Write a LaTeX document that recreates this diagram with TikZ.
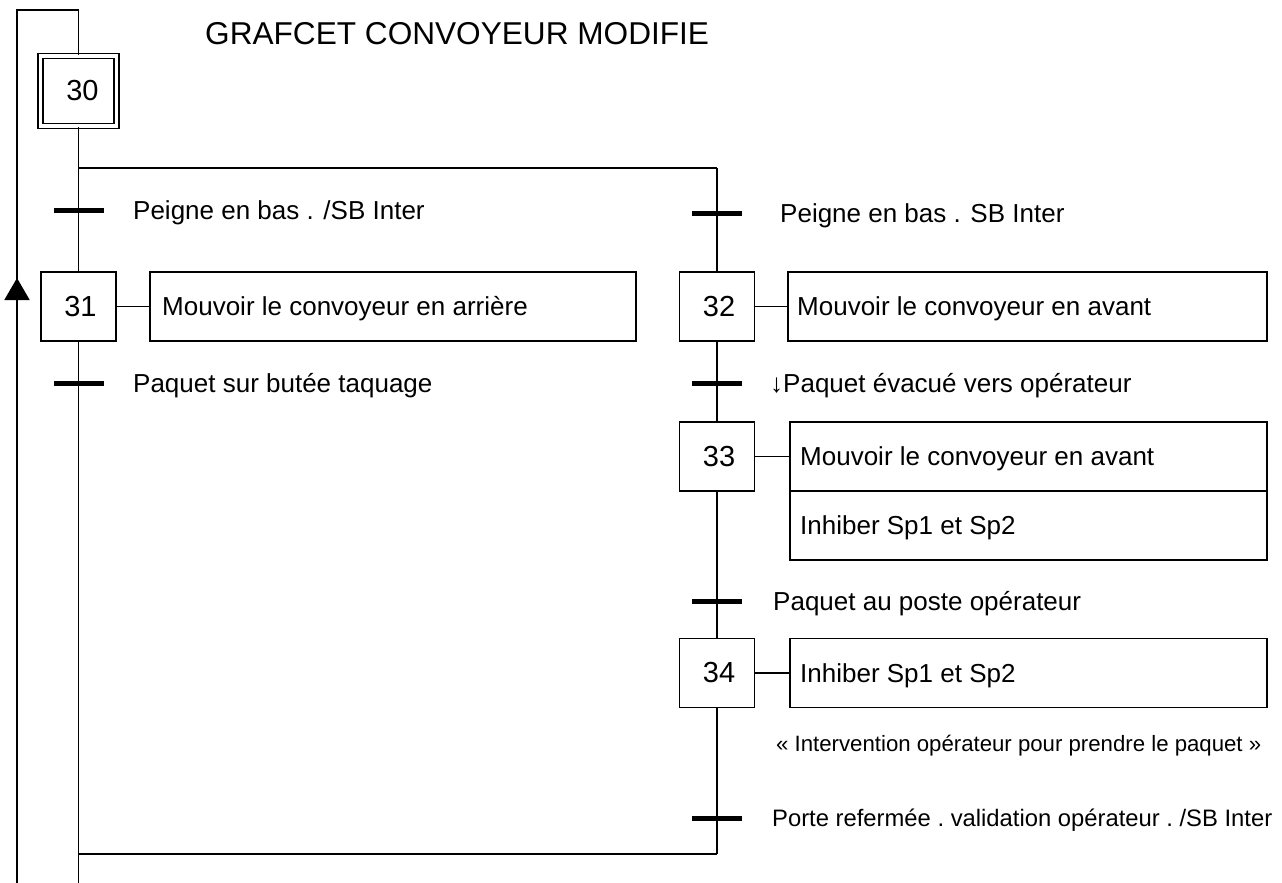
\documentclass[tikz,border=0pt]{standalone}
\usepackage{fontspec}
\setmainfont{Liberation Sans}
\usetikzlibrary{arrows.meta}
\begin{document}
\begin{tikzpicture}[x=1pt,y=-1pt,
  ln/.style={line width=1.9pt},
  stepbox/.style={draw,line width=1.9pt,minimum width=75pt,minimum height=69pt,inner sep=0pt,font=\fontsize{29}{32}\selectfont},
  initbox/.style={draw,line width=1.8pt,double,double distance=3.2pt,minimum width=76pt,minimum height=70pt,inner sep=0pt,font=\fontsize{29}{32}\selectfont},
  actbox/.style={draw,line width=1.9pt,minimum height=69pt,inner sep=0pt},
  lbl/.style={anchor=base west,font=\fontsize{26}{30}\selectfont,inner sep=0pt},
  trans/.style={fill=black,minimum width=50pt,minimum height=5pt,inner sep=0pt},
  uparrow/.style={line width=1.9pt,-{Triangle[width=25pt,length=22pt]}}
]
\useasboundingbox (0,0) rectangle (1282,883);

% title
\node[anchor=base west,font=\fontsize{31.6}{36}\selectfont,inner sep=0pt] (title) at (205,45) {GRAFCET CONVOYEUR MODIFIE};

% steps
\node[initbox] (s30) at (78.5,91) {\hspace*{8pt}30};
\node[stepbox] (s31) at (78.5,306.5) {\hspace*{4pt}31};
\node[stepbox] (s32) at (717,306.5) {\hspace*{4pt}32};
\node[stepbox] (s33) at (717,456.5) {\hspace*{4pt}33};
\node[stepbox] (s34) at (717,673) {\hspace*{4pt}34};

% actions
\node[actbox,minimum width=486pt] (a31) at (393,306.5) {};
\node[actbox,minimum width=479pt] (a32) at (1027.5,306.5) {};
\node[actbox,minimum width=477pt] (a33) at (1028.5,456.5) {};
\node[actbox,minimum width=477pt] (a33b) at (1028.5,525.5) {};
\node[actbox,minimum width=477pt] (a34) at (1028.5,673) {};
\node[lbl] (a31t) at (162,315) {Mouvoir le convoyeur en arrière};
\node[lbl] (a32t) at (797,315) {Mouvoir le convoyeur en avant};
\node[lbl] (a33t) at (800,465) {Mouvoir le convoyeur en avant};
\node[lbl] (a33bt) at (800,534) {Inhiber Sp1 et Sp2};
\node[lbl] (a34t) at (800,682) {Inhiber Sp1 et Sp2};

% transitions
\node[trans] (t1) at (78.5,210) {};
\node[trans] (t2) at (78.5,383) {};
\node[trans] (t3) at (717,213) {};
\node[trans] (t4) at (717,383) {};
\node[trans] (t5) at (717,601) {};
\node[trans] (t6) at (717,818) {};

% transition labels
\node[lbl] (l1) at (133,219) {Peigne en bas . /SB Inter};
\node[lbl] (l2) at (133,392) {Paquet sur butée taquage};
\node[lbl] (l3) at (780,222) {Peigne en bas . SB Inter};
\node[lbl] (l4) at (770,392) {↓Paquet évacué vers opérateur};
\node[lbl] (l5) at (773,610) {Paquet au poste opérateur};
\node[lbl,font=\fontsize{22.2}{26}\selectfont] (l6) at (776,751) {« Intervention opérateur pour prendre le paquet »};
\node[lbl,font=\fontsize{23.8}{28}\selectfont\frenchspacing] (l7) at (772,826) {Porte refermée . validation opérateur . /SB Inter};

% coordinates
\coordinate (top) at (78.5,10);
\coordinate (loopc) at (17,10);
\coordinate (loopb) at (17,883);
\coordinate (div) at (78.5,168);
\coordinate (divr) at (717,168);
\coordinate (conv) at (78.5,854);
\coordinate (convr) at (717,854);
\coordinate (leftend) at (78.5,883);
\coordinate (arrA) at (17,302);
\coordinate (arrT) at (17,278);

% links
\draw[ln] (loopb) -- (loopc) -- (top) -- (s30.north);
\draw[uparrow] (arrA) -- (arrT);
\draw[ln] (s30.south) -- (div) -- (divr);
\draw[ln] (div) -- (s31.north);
\draw[ln] (s31.south) -- (conv) -- (leftend);
\draw[ln] (conv) -- (convr);
\draw[ln] (divr) -- (s32.north);
\draw[ln] (s32.south) -- (s33.north);
\draw[ln] (s33.south) -- (s34.north);
\draw[ln] (s34.south) -- (convr);
\draw[ln] (s31.east) -- (a31.west);
\draw[ln] (s32.east) -- (a32.west);
\draw[ln] (s33.east) -- (a33.west);
\draw[ln] (s34.east) -- (a34.west);
\end{tikzpicture}
\end{document}
